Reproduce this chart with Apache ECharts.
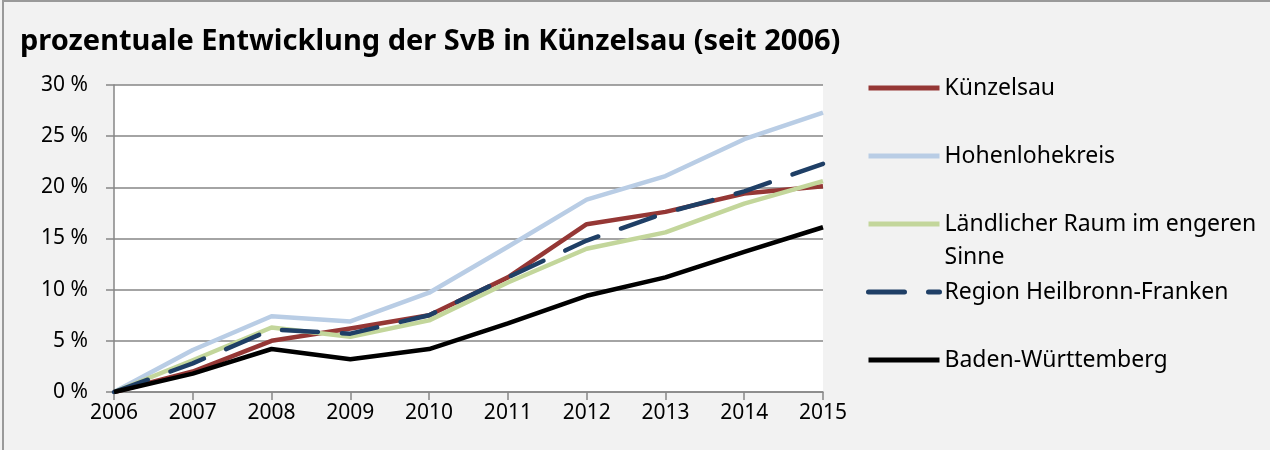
<!DOCTYPE html>
<html>
<head>
<meta charset="utf-8">
<script src="https://cdn.jsdelivr.net/npm/echarts@6/dist/echarts.min.js"></script>
<style>
  html, body { margin: 0; padding: 0; background: #f2f2f2; }
  #chart { width: 1270px; height: 450px; }
</style>
</head>
<body>
<div id="chart"></div>
<script>
// Jahre (x-Achse)
const years = ["2006", "2007", "2008", "2009", "2010", "2011", "2012", "2013", "2014", "2015"];
// Werte in Prozent, seit 2006
const kuenzelsau = [0, 2.0, 5.0, 6.2, 7.5, 11.2, 16.4, 17.6, 19.4, 20.1];
const hohenlohekreis = [0, 4.1, 7.4, 6.9, 9.7, 14.2, 18.8, 21.1, 24.7, 27.3];
const laendlicherRaum = [0, 3.1, 6.3, 5.4, 7.0, 10.7, 14.0, 15.6, 18.4, 20.6];
const regionHNF = [0, 2.8, 6.1, 5.7, 7.5, 11.2, 14.8, 17.5, 19.6, 22.3];
const badenWuerttemberg = [0, 1.8, 4.2, 3.2, 4.2, 6.7, 9.4, 11.2, 13.7, 16.1];
const yTicks = [0, 5, 10, 15, 20, 25, 30];

const names = ["Künzelsau", "Hohenlohekreis", "Ländlicher Raum im engeren Sinne", "Region Heilbronn-Franken", "Baden-Württemberg"];
const values = [kuenzelsau, hohenlohekreis, laendlicherRaum, regionHNF, badenWuerttemberg];
const colors = ["#953735", "#b9cde5", "#c3d69b", "#1f3f66", "#000000"];

const font = "Noto Sans";
const gray = "#868686";

const chart = echarts.init(document.getElementById("chart"));

// eine Legende pro Eintrag, damit der Umbruch wie im Original aussieht
// (leere erste Zeile beim langen Namen -> Linie steht auf Höhe der ersten Zeile)
const legends = names.map((n, i) => ({
  data: [n],
  left: 866,
  top: i === 2 ? 88 + i * 68 - 49.5 : 88 + i * 68 - 16.5,
  padding: 0,
  itemWidth: 71,
  itemHeight: 14,
  selectedMode: false,
  lineStyle: { width: 5 },
  itemStyle: { opacity: 0 },
  textStyle: {
    fontFamily: font,
    fontSize: 23,
    color: "#000",
    lineHeight: 33
  },
  formatter: i === 2 ? " \nLändlicher Raum im engeren\nSinne" : "{name}"
}));

const option = {
  backgroundColor: "#f2f2f2",
  animation: false,
  title: {
    text: "prozentuale Entwicklung der SvB in Künzelsau (seit 2006)",
    left: 20,
    top: 27,
    padding: 0,
    textStyle: { fontFamily: font, fontSize: 29, fontWeight: "bold", color: "#000" }
  },
  legend: legends,
  grid: {
    left: 114,
    top: 85,
    right: 447,
    bottom: 58,
    show: true,
    backgroundColor: "#ffffff",
    borderWidth: 0
  },
  xAxis: {
    type: "category",
    data: years,
    boundaryGap: false,
    axisLine: { lineStyle: { color: gray, width: 1.5 } },
    axisTick: { show: true, length: 8, lineStyle: { color: gray, width: 1.5 } },
    axisLabel: { fontFamily: font, fontSize: 21, color: "#000", margin: 11 },
    splitLine: { show: false }
  },
  yAxis: {
    type: "value",
    min: yTicks[0],
    max: yTicks[yTicks.length - 1],
    interval: 5,
    axisLine: { show: true, lineStyle: { color: gray, width: 1.5 } },
    axisTick: { show: true, length: 8, lineStyle: { color: gray, width: 1.5 } },
    axisLabel: { fontFamily: font, fontSize: 21, color: "#000", margin: 26, formatter: "{value} %" },
    splitLine: { lineStyle: { color: gray, width: 1.5 } }
  },
  graphic: [{
    type: "polyline",
    shape: { points: [[3, 450], [3, 1], [1270, 1]] },
    style: { stroke: "#9a9a9a", lineWidth: 2, fill: null },
    silent: true
  }],
  series: names.map((n, i) => ({
    name: n,
    type: "line",
    data: values[i],
    symbol: "none",
    color: colors[i],
    lineStyle: {
      color: colors[i],
      width: 4.5,
      type: i === 3 ? [36, 24] : "solid",
      cap: i === 3 ? "round" : "butt",
      join: "round"
    }
  }))
};

chart.setOption(option);
window.addEventListener("resize", () => chart.resize());
</script>
</body>
</html>
